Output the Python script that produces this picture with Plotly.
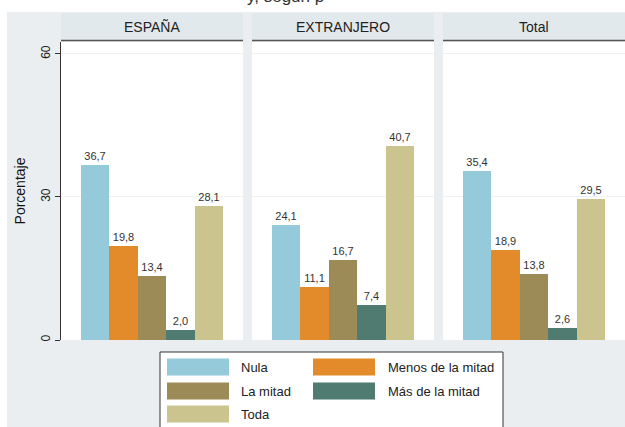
import plotly.graph_objects as go
from plotly.subplots import make_subplots

# data
panels = ['ESPAÑA', 'EXTRANJERO', 'Total']
categories = ['Nula', 'Menos de la mitad', 'La mitad', 'Más de la mitad', 'Toda']
espana = [36.7, 19.8, 13.4, 2.0, 28.1]
extranjero = [24.1, 11.1, 16.7, 7.4, 40.7]
total = [35.4, 18.9, 13.8, 2.6, 29.5]
y_ticks = [0, 30, 60]

colors = ['#95cadb', '#e38b2a', '#9c8b57', '#4f7b70', '#cbc48f']
values = [espana, extranjero, total]

W, H = 625, 427
ML, MR, MT, MB = 61, 0, 42, 87
pw = W - ML - MR
ph = H - MT - MB


def px_x(p):
    return (p - ML) / pw


def px_y(p):
    return (H - MB - p) / ph


fig = make_subplots(rows=1, cols=3, shared_yaxes=True, horizontal_spacing=9 / pw)

for i, vals in enumerate(values):
    fig.add_trace(go.Bar(
        x=categories,
        y=vals,
        marker=dict(color=colors, line=dict(width=0)),
        text=[f'{v:.1f}'.replace('.', ',') for v in vals],
        textposition='outside',
        textfont=dict(size=11, color='#333333'),
        cliponaxis=False,
        showlegend=False,
        hoverinfo='skip',
    ), row=1, col=i + 1)

fig.update_xaxes(range=[-1.2, 5.2], showticklabels=False, ticks='', showline=False,
                 showgrid=False, zeroline=False)
fig.update_yaxes(range=[0, 62.5], tickvals=y_ticks, showgrid=True, gridcolor='#eef2f5',
                 gridwidth=1, zeroline=False, showticklabels=False, ticks='')
fig.update_yaxes(row=1, col=1, showticklabels=True, ticks='outside', ticklen=5,
                 tickcolor='#333333', showline=True, linecolor='#333333', linewidth=1,
                 tickangle=-90, tickfont=dict(size=12, color='#222222'),
                 title=dict(text='Porcentaje', font=dict(size=14, color='#111111'), standoff=10))

shapes = []
annotations = []
# white page edges outside the grey graph region
shapes.append(dict(type='rect', xref='paper', yref='paper', x0=px_x(0), x1=1.01,
                   y0=px_y(12), y1=px_y(-5), fillcolor='white', line=dict(width=0), layer='below'))
shapes.append(dict(type='rect', xref='paper', yref='paper', x0=px_x(-5), x1=px_x(7),
                   y0=px_y(440), y1=px_y(-5), fillcolor='white', line=dict(width=0), layer='below'))
annotations.append(dict(text='y, según p', xref='paper', yref='paper', x=px_x(245), y=px_y(8),
                        xanchor='left', yanchor='bottom', showarrow=False,
                        font=dict(size=17, color='#333333')))

# panel strips
for i, name in enumerate(panels):
    dom = fig.layout['xaxis' + ('' if i == 0 else str(i + 1))].domain
    shapes.append(dict(type='rect', xref='paper', yref='paper', x0=dom[0], x1=dom[1],
                       y0=px_y(40), y1=px_y(13), fillcolor='#e2e9ec', line=dict(width=0)))
    shapes.append(dict(type='line', xref='paper', yref='paper', x0=dom[0], x1=dom[1],
                       y0=px_y(40.5), y1=px_y(40.5), line=dict(color='#555555', width=1.5)))
    annotations.append(dict(text=name, xref='paper', yref='paper', x=(dom[0] + dom[1]) / 2,
                            y=px_y(26.5), xanchor='center', yanchor='middle', showarrow=False,
                            font=dict(size=14, color='#222222')))

# legend box, Stata style with wide swatches
shapes.append(dict(type='rect', xref='paper', yref='paper', x0=px_x(160), x1=px_x(503),
                   y0=px_y(440), y1=px_y(352), fillcolor='white',
                   line=dict(color='#333333', width=1)))
col_x = [(167, 239), (313, 386)]
row_y = [367, 391, 414]
for k, cat in enumerate(categories):
    r, c = divmod(k, 2)
    sx, tx = col_x[c]
    cy = row_y[r]
    shapes.append(dict(type='rect', xref='paper', yref='paper', x0=px_x(sx), x1=px_x(sx + 62),
                       y0=px_y(cy + 8.5), y1=px_y(cy - 8.5), fillcolor=colors[k], line=dict(width=0)))
    annotations.append(dict(text=cat, xref='paper', yref='paper', x=px_x(tx), y=px_y(cy),
                            xanchor='left', yanchor='middle', showarrow=False,
                            font=dict(size=13, color='#222222')))

fig.update_layout(
    width=W, height=H,
    margin=dict(l=ML, r=MR, t=MT, b=MB),
    paper_bgcolor='#eaeef1',
    plot_bgcolor='white',
    bargap=0,
    font=dict(family='Liberation Sans, Arial, sans-serif'),
    shapes=shapes,
    annotations=annotations,
    showlegend=False,
)

fig.write_html('out.html', config={'displayModeBar': False},
               post_script="document.body.style.margin='0';document.body.style.overflow='hidden';")
